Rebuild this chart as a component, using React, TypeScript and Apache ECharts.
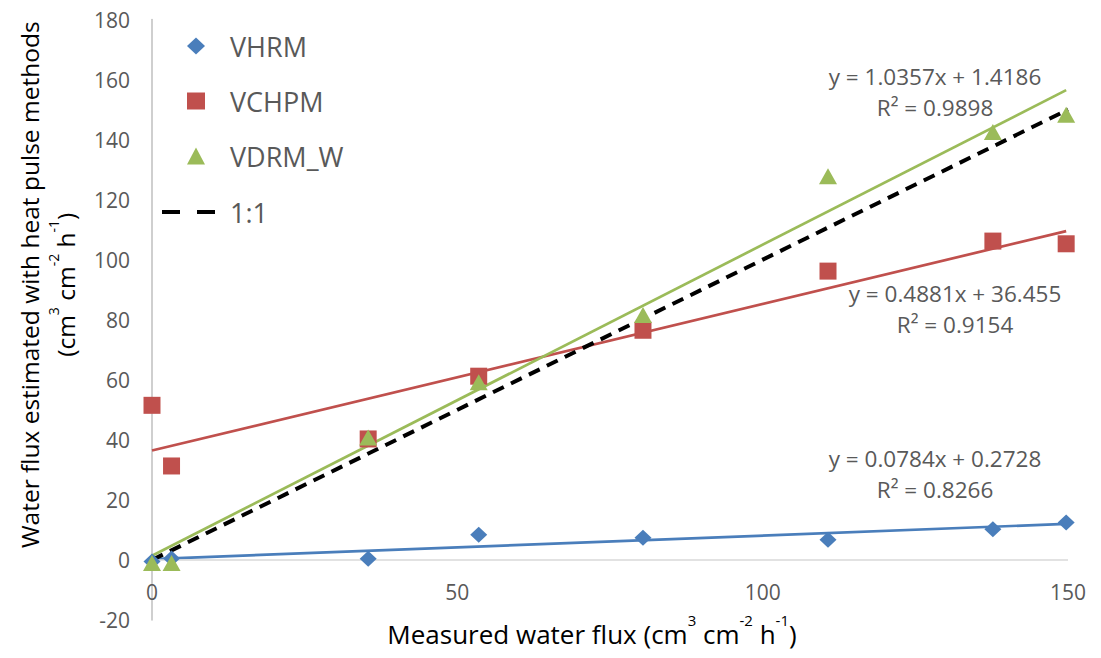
import React, { useEffect, useRef } from "react";
import * as echarts from "echarts";

// ---- data ----
const MEASURED = [0, 3.2, 35.4, 53.5, 80.4, 110.7, 137.7, 149.7];
const VHRM = [-0.5, 0.5, 0.4, 8.4, 7.4, 6.7, 10.2, 12.5];
const VCHPM = [51.5, 31.3, 40.3, 61.2, 76.5, 96.2, 106.2, 105.3];
const VDRM_W = [-1.0, -1.0, 40.8, 59.2, 81.6, 127.8, 142.5, 148.3];

const SERIES_NAMES = ["VHRM", "VCHPM", "VDRM_W"];
const ONE_TO_ONE_NAME = "1:1";
const ONE_TO_ONE = [
  [0, 0],
  [150, 150],
];

// trendline coefficients as printed on the chart
const TREND_SLOPE = [0.0784, 0.4881, 1.0357];
const TREND_INTERCEPT = [0.2728, 36.455, 1.4186];
const TREND_X_RANGE = [0, 149.7];
const EQUATION_TEXT = [
  "y = 0.0784x + 0.2728\nR² = 0.8266",
  "y = 0.4881x + 36.455\nR² = 0.9154",
  "y = 1.0357x + 1.4186\nR² = 0.9898",
];

const X_TICKS = { min: 0, max: 150, interval: 50 };
const Y_TICKS = { min: -20, max: 180, interval: 20 };

// ---- styles ----
const COLORS = ["#4A7EBB", "#C0504D", "#9BBB59"];
const SYMBOLS = ["diamond", "rect", "triangle"];
const SYMBOL_SIZES: any[] = [[17, 16], 17, [18, 16]];
const EQ_POS = [
  [935, 474],
  [955, 309],
  [935, 92],
];
const FONT = '"Open Sans", "Noto Sans", sans-serif';

export default function App() {
  const ref = useRef<HTMLDivElement>(null);

  useEffect(() => {
    if (!ref.current) return;
    const chart = echarts.init(ref.current, null, { renderer: "svg" });

    const pts = (ys: number[]) => MEASURED.map((x, i) => [x, ys[i]]);
    const allY = [VHRM, VCHPM, VDRM_W];

    const trendSeries = TREND_SLOPE.map((m, i) => ({
      name: SERIES_NAMES[i] + " trend",
      type: "line",
      data: TREND_X_RANGE.map((x) => [x, m * x + TREND_INTERCEPT[i]]),
      symbol: "none",
      lineStyle: { color: COLORS[i], width: 2.7 },
      z: 3,
      silent: true,
    }));

    const scatterSeries = allY.map((ys, i) => ({
      name: SERIES_NAMES[i],
      type: "scatter",
      data: pts(ys),
      symbol: SYMBOLS[i],
      symbolSize: SYMBOL_SIZES[i],
      itemStyle: { color: COLORS[i], opacity: 1 },
      z: 5,
    }));

    const xRich = {
      t: { fontSize: 26, fontFamily: FONT, color: "#000", lineHeight: 40 },
      s: { fontSize: 15, fontFamily: FONT, color: "#000", padding: [0, 0, 28, 0] },
    };
    const yRich = {
      t: { fontSize: 24.5, fontFamily: FONT, color: "#000", lineHeight: 34 },
      s: { fontSize: 14, fontFamily: FONT, color: "#000", padding: [0, 0, 24, 0] },
    };

    const legendText = (pad: number) => ({
      fontSize: 27,
      fontFamily: FONT,
      color: "#595959",
      lineHeight: 30,
      padding: [0, 0, 0, pad],
    });

    const option: any = {
      animation: false,
      backgroundColor: "#fff",
      grid: {
        left: 152,
        right: 33,
        top: 19.5,
        bottom: 38,
        containLabel: false,
        outerBoundsMode: "none",
      },
      legend: [
        {
          data: SERIES_NAMES,
          orient: "vertical",
          left: 182,
          top: 26,
          itemWidth: 18,
          itemHeight: 17,
          itemGap: 25,
          textStyle: legendText(20),
        },
        {
          data: [{ name: ONE_TO_ONE_NAME, icon: "path://M0 0H18V4H0ZM35 0H53V4H35Z" }],
          orient: "vertical",
          left: 157,
          top: 192,
          itemWidth: 53,
          itemHeight: 4,
          textStyle: legendText(10),
        },
      ],
      xAxis: {
        type: "value",
        min: X_TICKS.min,
        max: X_TICKS.max,
        interval: X_TICKS.interval,
        offset: -39,
        axisLine: { show: false },
        axisTick: { show: false },
        splitLine: { show: false },
        axisLabel: { color: "#595959", fontSize: 21, fontFamily: FONT, margin: 0 },
        name: "{t|Measured water flux (cm}{s|3}{t| cm}{s|-2}{t| h}{s|-1}{t|)}",
        nameLocation: "middle",
        nameGap: 31,
        nameTextStyle: { rich: xRich, padding: [0, 36, 0, 0] },
      },
      yAxis: {
        type: "value",
        min: Y_TICKS.min,
        max: Y_TICKS.max,
        interval: Y_TICKS.interval,
        axisLine: { show: true, lineStyle: { color: "#BFBFBF", width: 1.5 } },
        axisTick: { show: false },
        splitLine: { show: false },
        axisLabel: { color: "#595959", fontSize: 21, fontFamily: FONT, margin: 22 },
        name:
          "{t|Water flux estimated with heat pulse methods}\n{t|(cm}{s|3}{t| cm}{s|-2}{t| h}{s|-1}{t|)}",
        nameLocation: "middle",
        nameRotate: 90,
        nameGap: 68,
        nameTextStyle: { rich: yRich, align: "center", padding: [0, 0, 0, 70] },
      },
      series: [
        {
          name: "zero",
          type: "line",
          data: [],
          silent: true,
          z: 1,
          markLine: {
            silent: true,
            symbol: "none",
            label: { show: false },
            lineStyle: { color: "#D9D9D9", type: "solid", width: 1.5 },
            data: [{ yAxis: 0 }],
          },
        },
        ...trendSeries,
        {
          name: ONE_TO_ONE_NAME,
          type: "line",
          data: ONE_TO_ONE,
          symbol: "none",
          lineStyle: { color: "#000", width: 4, type: [12, 8] },
          itemStyle: { color: "#000" },
          z: 4,
          silent: true,
        },
        ...scatterSeries,
      ],
      graphic: EQUATION_TEXT.map((t, i) => ({
        type: "text",
        x: EQ_POS[i][0],
        y: EQ_POS[i][1],
        silent: true,
        style: {
          text: t,
          fill: "#595959",
          font: `22.5px ${FONT}`,
          textAlign: "center",
          textVerticalAlign: "middle",
          lineHeight: 31,
        },
      })),
    };

    chart.setOption(option);
    return () => chart.dispose();
  }, []);

  return (
    <div
      ref={ref}
      style={{ position: "absolute", left: 0, top: 0, width: 1101, height: 658 }}
    />
  );
}
